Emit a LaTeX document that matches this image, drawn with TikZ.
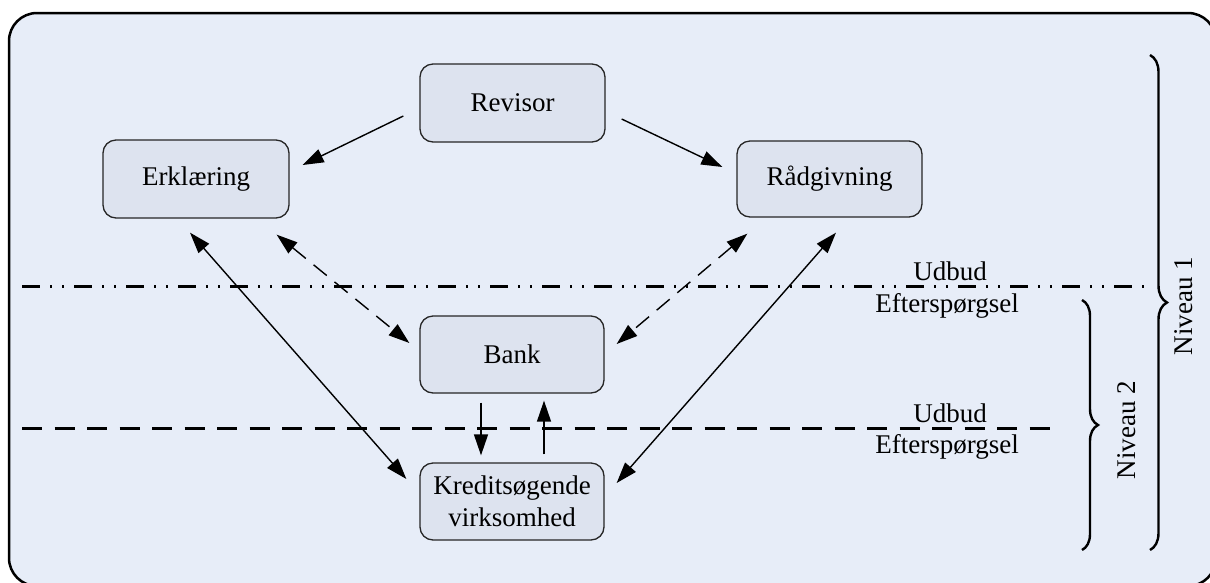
\documentclass[tikz,border=0pt]{standalone}
\usepackage{fontspec}
\setmainfont{Liberation Serif}
\usetikzlibrary{arrows.meta,calc,decorations.pathreplacing}
\definecolor{bgcol}{RGB}{231,237,248}
\definecolor{boxcol}{RGB}{221,227,239}
\tikzset{
  box/.style={draw=black!85, line width=1.3pt, fill=boxcol, rounded corners=13pt,
    minimum width=185pt, minimum height=78pt, inner sep=0pt, align=center,
    font=\fontsize{27}{31.5}\selectfont},
  lbl/.style={inner sep=0pt, anchor=base, font=\fontsize{27}{31.5}\selectfont},
  tip/.tip={Triangle[length=21pt,width=14pt]},
  conn/.style={line width=1.4pt, -tip},
  bconn/.style={line width=1.4pt, tip-tip},
  dconn/.style={bconn, dash pattern=on 17pt off 10pt},
  sepdd/.style={line width=3pt, dash pattern=on 18pt off 10pt on 2pt off 10pt on 2pt off 10pt},
  sepd/.style={line width=3pt, dash pattern=on 20pt off 12.5pt},
  bracestyle/.style={line width=2.4pt, decorate, decoration={brace, amplitude=17pt}}
}
\begin{document}
\begin{tikzpicture}[x=1pt,y=-1pt]
\useasboundingbox (0,0) rectangle (1210,582);
\begin{scope}
\clip (0,0) rectangle (1210,582);
\draw[line width=2.5pt, fill=bgcol, rounded corners=28pt] (9,13) rectangle (1216,586);
\end{scope}

% separator lines
\draw[sepdd] (22,286) -- (1147,286);
\draw[sepd] (22,428) -- (1056,428);
\node[lbl] (u1) at (950,280) {Udbud};
\node[lbl] (e1) at (947,312) {Efterspørgsel};
\node[lbl] (u2) at (950,422) {Udbud};
\node[lbl] (e2) at (947,453) {Efterspørgsel};

% braces
\draw[bracestyle] (1150,55) -- (1150,550);
\draw[bracestyle, decoration={brace, amplitude=16pt}] (1082,300) -- (1082,550);
\node[lbl, anchor=center, rotate=90] (n1) at (1184,306) {Niveau 1};
\node[lbl, anchor=center, rotate=90] (n2) at (1127,430) {Niveau 2};

% nodes
\node[box] (rev) at (512.5,103) {Revisor};
\node[box, minimum width=186pt] (erk) at (196,179) {Erklæring};
\node[box, minimum height=76pt] (rad) at (829.5,179) {Rådgivning};
\node[box, minimum width=184pt, minimum height=77pt] (bank) at (512,354.5) {Bank};
\node[box, minimum width=184pt, minimum height=77pt] (kred) at (512,501.5) {Kreditsøgende\\virksomhed};

% connectors
\draw[conn] ($(rev.west)+(-16,13)$) -- ($(erk.east)+(13,-14)$);
\draw[conn] ($(rev.east)+(16,16)$) -- ($(rad.west)+(-14,-12)$);
\draw[bconn] ($(erk.south)+(-6,14)$) -- ($(kred.west)+(-13,-22.5)$);
\draw[dconn] ($(erk.south east)+(-13,16)$) -- ($(bank.west)+(-10,-11.5)$);
\draw[dconn] ($(rad.south west)+(11,16)$) -- ($(bank.east)+(12,-10.5)$);
\draw[bconn] ($(rad.south)+(6.5,15)$) -- ($(kred.east)+(12,-18.5)$);
\draw[conn] ($(bank.south)+(-31,9)$) -- ($(kred.north)+(-31,-7)$);
\draw[conn] ($(kred.north)+(32,-8)$) -- ($(bank.south)+(32,7)$);
\end{tikzpicture}
\end{document}
